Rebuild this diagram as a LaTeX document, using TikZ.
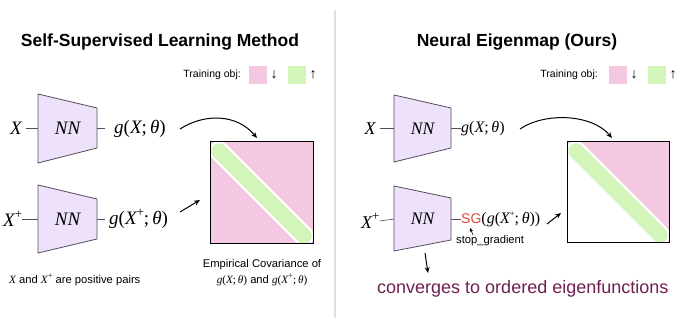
\documentclass[tikz,border=0pt]{standalone}
\usepackage{fontspec}
\setmainfont{Liberation Sans}
\newfontfamily\tms{Liberation Serif}
\usetikzlibrary{arrows.meta}
\definecolor{pinkc}{RGB}{245,200,225}
\definecolor{greenc}{RGB}{212,245,185}
\definecolor{nnfill}{RGB}{238,226,250}
\definecolor{nnline}{RGB}{85,75,95}
\definecolor{sgc}{RGB}{220,75,50}
\definecolor{convc}{RGB}{112,32,82}
\newcommand{\mi}[1]{{\tms\itshape #1}}
\newcommand{\plussup}{\raisebox{0.42em}{\tms\fontsize{13}{14}\selectfont+}}
\newcommand{\plussups}{\raisebox{0.42em}{\tms\fontsize{8.5}{9}\selectfont+}}
\newcommand{\gx}{\mi{g}\/{\tms(}\mi{X}{\tms;\,}\mi{θ}{\tms)}}
\newcommand{\gxp}{\mi{g}\/{\tms(}\mi{X}\plussup{\tms;\,}\mi{θ}{\tms)}}
\newcommand{\gxps}{\mi{g}\/{\tms(}\mi{X}\plussups{\tms;\,}\mi{θ}{\tms)}}
\begin{document}
\begin{tikzpicture}[x=1pt,y=-1pt,
  nnbox/.style={draw=nnline,fill=nnfill,line width=0.8pt},
  conn/.style={draw=nnline,line width=0.6pt},
  arr/.style={-{Stealth[length=6pt,width=5pt]},line width=1pt},
  mathlbl/.style={inner sep=0pt,font=\fontsize{19}{22}\selectfont},
  mathlblr/.style={inner sep=0pt,font=\fontsize{16}{19}\selectfont},
  nnlbl/.style={inner sep=0pt,font=\fontsize{19}{22}\selectfont},
  title/.style={font=\bfseries\fontsize{17.5}{20}\selectfont,inner sep=0pt},
  small/.style={font=\fontsize{10.5}{12}\selectfont,inner sep=0pt},
  mid/.style={font=\fontsize{11.2}{13}\selectfont,inner sep=0pt}]
\useasboundingbox (0,0) rectangle (680,328);
\fill[white] (0,0) rectangle (680,328);
% divider
\draw[black!12,line width=1.6pt] (335,10) -- (335,318);

% ---------------- Left panel ----------------
\node[title] (t1) at (160,42) {Self-Supervised Learning Method};
\node[small,anchor=east] (to1) at (241,75) {Training obj:};
\fill[pinkc] (249,66) rectangle (267,84);
\node[small] (d1) at (274,75) {\fontsize{14}{14}\selectfont ↓};
\fill[greenc] (288,66) rectangle (306,84);
\node[small] (u1) at (313,75) {\fontsize{14}{14}\selectfont ↑};

% top NN
\draw[nnbox] (38,94) -- (97,108) -- (97,148) -- (38,163) -- cycle;
\node[nnlbl] (nn1) at (67.5,128.5) {\mi{NN}};
\node[mathlbl] (x1) at (16,128.5) {\mi{X}};
\coordinate (nn1in) at (38,128.5);
\coordinate (nn1out) at (97,128.5);
\node[mathlbl,anchor=west] (g1) at (114,128.5) {\gx};
\draw[conn] (x1.east) ++(4,0) -- (nn1in);
\draw[conn] (nn1out) -- ++(8,0);

% bottom NN
\draw[nnbox] (38,185) -- (97,199) -- (97,239) -- (38,253) -- cycle;
\node[nnlbl] (nn2) at (67.5,219) {\mi{NN}};
\node[mathlbl,anchor=west] (x2) at (3,219) {\mi{X}\plussup};
\coordinate (nn2in) at (38,219);
\coordinate (nn2out) at (97,219);
\node[mathlbl,anchor=west] (g2) at (109,219) {\gxp};
\draw[conn] (x2.east) -- (nn2in);
\draw[conn] (nn2out) -- ++(8,0);

% matrix left
\begin{scope}
\clip (210,142) rectangle (313,244);
\fill[pinkc] (210,142) rectangle (313,244);
\draw[white,line width=20pt,line cap=round] (219,151) -- (304,236);
\draw[greenc,line width=15.5pt,line cap=round] (219,151) -- (304,236);
\end{scope}
\draw[black,line width=1pt] (210,142) rectangle (313,244);
\coordinate (m1top) at (257,138);
\coordinate (m1left) at (200,200);
\coordinate (g1end) at (180,129);
\coordinate (g2end) at (180,212);
\draw[arr] (g1end) .. controls (205,113) and (237,114) .. (m1top);
\draw[arr] (g2end) -- (m1left);

\node[mid,anchor=west] (pp) at (9,280) {\mi{X} and \mi{X}\plussups{} are positive pairs};
\node[mid] (ec1) at (262,265) {Empirical Covariance of};
\node[mid] (ec2) at (262,280) {\gx{} and \gxps};

% ---------------- Right panel ----------------
\node[title] (t2) at (517,42) {Neural Eigenmap (Ours)};
\node[small,anchor=east] (to2) at (598,75) {Training obj:};
\fill[pinkc] (609,66) rectangle (627,84);
\node[small] (d2) at (634,75) {\fontsize{14}{14}\selectfont ↓};
\fill[greenc] (648,66) rectangle (666,84);
\node[small] (u2) at (673,75) {\fontsize{14}{14}\selectfont ↑};

% top NN right
\draw[nnbox] (394,95) -- (451,108) -- (451,148) -- (394,162) -- cycle;
\node[nnlbl] (nn3) at (422.5,128.5) {\fontsize{17.5}{20}\selectfont\mi{NN}};
\node[mathlblr] (x3) at (370,128.5) {\fontsize{18}{20}\selectfont\mi{X}};
\coordinate (nn3in) at (394,128.5);
\coordinate (nn3out) at (451,128.5);
\node[mathlblr,anchor=west] (g3) at (461,128.5) {\gx};
\draw[conn] (x3.east) ++(4,0) -- (nn3in);
\draw[conn] (nn3out) -- (g3.west);

% bottom NN right
\draw[nnbox] (394,186) -- (451,198) -- (451,240) -- (394,251) -- cycle;
\node[nnlbl] (nn4) at (422.5,219) {\fontsize{17.5}{20}\selectfont\mi{NN}};
\node[mathlblr,anchor=west] (x4) at (361,221) {\fontsize{18}{20}\selectfont\mi{X}\plussup};
\coordinate (nn4in) at (394,219);
\coordinate (nn4out) at (451,219);
\node[mathlblr,anchor=west] (g4) at (461,219) {{\color{sgc}\fontsize{14}{16}\selectfont SG}{\tms(}\gxps{\tms)}};
\draw[conn] (x4.east) -- (nn4in);
\draw[conn] (nn4out) -- (g4.west);
\node[mid,anchor=west] (sg) at (456,241) {stop\_gradient};
\coordinate (sgtip) at (470,228);
\draw[-{Stealth[length=4pt,width=3.5pt]},line width=0.6pt] (473,235) -- (sgtip);

% matrix right
\begin{scope}
\clip (567,142) rectangle (669,243);
\fill[pinkc] (567,142) -- (669,142) -- (669,244) -- cycle;
\draw[white,line width=20pt,line cap=round] (576,151) -- (660,235);
\draw[greenc,line width=15.5pt,line cap=round] (576,151) -- (660,235);
\end{scope}
\draw[black,line width=1pt] (567,142) rectangle (669,243);
\coordinate (m2top) at (612,138);
\coordinate (m2left) at (561,213);
\coordinate (g3end) at (520,129);
\coordinate (g4end) at (547,224);
\draw[arr] (g3end) .. controls (545,112) and (592,114) .. (m2top);
\draw[arr] (g4end) -- (m2left);

\coordinate (nn4bot) at (425,253);
\coordinate (convtop) at (428,273);
\draw[arr] (nn4bot) -- (convtop);
\node[font=\fontsize{18}{21}\selectfont,inner sep=0pt,text=convc,anchor=west] (conv) at (377,289) {converges to ordered eigenfunctions};
\end{tikzpicture}
\end{document}
